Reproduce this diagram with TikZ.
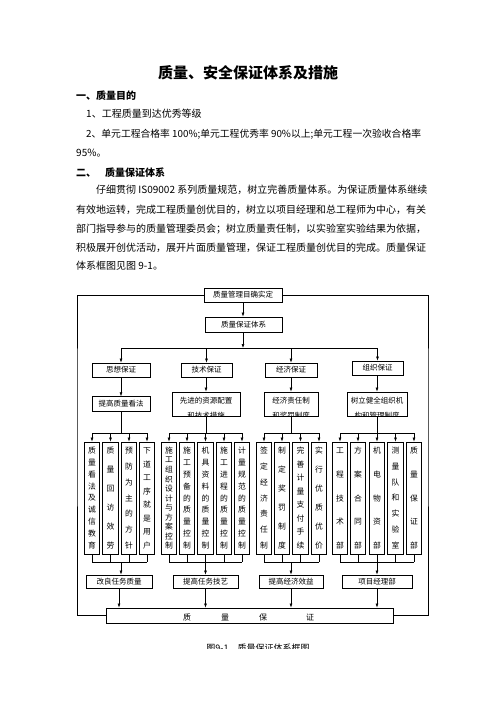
\documentclass[tikz,border=0pt]{standalone}
\usepackage{fontspec}
\setmainfont{Noto Sans CJK SC}
\usetikzlibrary{arrows.meta}
\newcommand\vcol[3]{%
  \foreach \c [count=\i] in {#3}
    \path (#1.north) ++(0,{9+(\i-1)*95/(#2-1)}) node[vch] (#1c\i) {\c};}
\begin{document}
\begin{tikzpicture}[x=1pt,y=-1pt,
  box/.style={draw,line width=0.9pt,inner sep=0pt,font=\fontsize{7.5}{8}\selectfont},
  tall/.style={draw,line width=0.9pt,inner sep=0pt,minimum width=15.5pt,minimum height=112pt},
  arr/.style={line width=0.6pt,-{Latex[length=4pt,width=3pt]}},
  ln/.style={line width=0.6pt},
  lab/.style={inner sep=0pt,font=\fontsize{7.5}{8}\selectfont},
  body/.style={anchor=west,inner sep=0pt,font=\fontsize{10}{12}\selectfont},
  vch/.style={inner sep=0pt,font=\fontsize{7.8}{8}\selectfont}
]
\useasboundingbox[fill=white] (0,0) rectangle (496,702);

% ---------- text ----------
\node[inner sep=0pt,font=\fontsize{15}{16}\selectfont\bfseries] (title) at (248,73) {质量、安全保证体系及措施};
\node[body,font=\fontsize{10}{12}\selectfont\bfseries] (h1) at (76,96) {一、质量目的};
\node[body] (p1) at (86,114) {1、工程质量到达优秀等级};
\node[body,font=\fontsize{9.8}{12}\selectfont] (p2) at (86,134) {2、单元工程合格率 100\%;单元工程优秀率 90\%以上;单元工程一次验收合格率};
\node[body] (p3) at (76,153) {95\%。};
\node[body,font=\fontsize{10}{12}\selectfont\bfseries] (h2) at (76,173) {二、};
\node[body,font=\fontsize{10}{12}\selectfont\bfseries] (h2b) at (105,173) {质量保证体系};
\node[body] (q1) at (96,190) {仔细贯彻 IS09002 系列质量规范，树立完善质量体系。为保证质量体系继续};
\node[body] (q2) at (76,210) {有效地运转，完成工程质量创优目的，树立以项目经理和总工程师为中心，有关};
\node[body] (q3) at (76,229) {部门指导参与的质量管理委员会；树立质量责任制，以实验室实验结果为依据，};
\node[body] (q4) at (76,248) {积极展开创优活动，展开片面质量管理，保证工程质量创优目的完成。质量保证};
\node[body] (q5) at (76,266) {体系框图见图 9-1。};

% ---------- top ----------
\node[box,minimum width=78pt,minimum height=14pt] (top) at (243,295) {质量管理目确实定};
\node[box,minimum width=77pt,minimum height=15pt] (sys) at (243.5,324.5) {质量保证体系};
\draw[arr] (top.south) -- (top.south |- sys.north);
\coordinate (bus) at (243,348);
\draw[arr] (sys.south -| bus) -- (bus);

% second level
\node[box,minimum width=58pt,minimum height=14pt] (b1) at (121,370) {思想保证};
\node[box,minimum width=51pt,minimum height=14pt] (b2) at (206.5,370) {技术保证};
\node[box,minimum width=52pt,minimum height=14pt] (b3) at (291,370) {经济保证};
\node[box,minimum width=51pt,minimum height=14pt] (b4) at (377.5,368) {组织保证};
\draw[ln] (b1.north |- bus) -- (b4.north |- bus);
\foreach \k in {b1,b2,b3,b4} \draw[arr] (\k.north |- bus) -- (\k.north);

% third level
\node[box,minimum width=58pt,minimum height=14.5pt] (t1) at (121,404) {提高质量看法};
\node[box,minimum width=68pt,minimum height=24pt] (t2) at (206,404) {};
\node[box,minimum width=54pt,minimum height=24pt] (t3) at (291,404) {};
\node[box,minimum width=60pt,minimum height=24pt] (t4) at (377,404) {};
\node[lab] (t2a) at (206,400.5) {先进的资源配置};
\node[lab] (t3a) at (291,400.5) {经济责任制};
\node[lab] (t4a) at (377,400.5) {树立健全组织机};
\begin{scope}
\clip (t2.north west) rectangle (t2.south east);
\node[lab] (t2b) at (206,415.5) {和技术措施};
\end{scope}
\begin{scope}
\clip (t3.north west) rectangle (t3.south east);
\node[lab] (t3b) at (291,415.5) {和奖罚制度};
\end{scope}
\begin{scope}
\clip (t4.north west) rectangle (t4.south east);
\node[lab] (t4b) at (377,415.5) {构和管理制度};
\end{scope}
\draw[arr] (b1.south) -- (t1.north);
\draw[arr] (b2.south -| t2) -- (t2.north);
\draw[arr] (b3.south) -- (t3.north);
\draw[arr] (b4.south -| t4) -- (t4.north);

% fourth level
\node[tall] (d1) at (92,498) {};   \vcol{d1}{9}{质,量,看,法,及,诚,信,教,育}
\node[tall] (d2) at (110.5,498) {}; \vcol{d2}{6}{质,量,回,访,效,劳}
\node[tall] (d3) at (129,498) {};  \vcol{d3}{7}{预,防,为,主,的,方,针}
\node[tall] (d4) at (147,498) {};  \vcol{d4}{8}{下,道,工,序,就,是,用,户}
\node[tall] (d5) at (169,498) {};  \vcol{d5}{11}{施,工,组,织,设,计,与,方,案,控,制}
\node[tall] (d6) at (187,498) {};  \vcol{d6}{9}{施,工,预,备,的,质,量,控,制}
\node[tall] (d7) at (205.5,498) {}; \vcol{d7}{9}{机,具,资,料,的,质,量,控,制}
\node[tall] (d8) at (224,498) {};  \vcol{d8}{9}{施,工,进,程,的,质,量,控,制}
\node[tall] (d9) at (242,498) {};  \vcol{d9}{9}{计,量,规,范,的,质,量,控,制}
\node[tall] (d10) at (264,498) {}; \vcol{d10}{7}{签,定,经,济,责,任,制}
\node[tall] (d11) at (282,498) {}; \vcol{d11}{6}{制,定,奖,罚,制,度}
\node[tall] (d12) at (300.5,498) {}; \vcol{d12}{8}{完,善,计,量,支,付,手,续}
\node[tall] (d13) at (319,498) {}; \vcol{d13}{6}{实,行,优,质,优,价}
\node[tall] (d14) at (340,498) {}; \vcol{d14}{5}{工,程,技,术,部}
\node[tall] (d15) at (358,498) {}; \vcol{d15}{5}{方,案,合,同,部}
\node[tall] (d16) at (377,498) {}; \vcol{d16}{5}{机,电,物,资,部}
\node[tall] (d17) at (395.5,498) {}; \vcol{d17}{7}{测,量,队,和,实,验,室}
\node[tall] (d18) at (414,498) {}; \vcol{d18}{5}{质,量,保,证,部}

\coordinate (u) at (0,433);
\coordinate (l) at (0,562);
% upper buses
\draw[ln] (t1.south) -- (t1.south |- u);
\draw[ln] (t2.south) -- (t2.south |- u);
\draw[ln] (t3.south) -- (t3.south |- u);
\draw[ln] (t4.south) -- (t4.south |- u);
\draw[ln] (d1.north |- u) -- (d4.north |- u);
\draw[ln] (d5.north |- u) -- (d9.north |- u);
\draw[ln] (d10.north |- u) -- (d13.north |- u);
\draw[ln] (d14.north |- u) -- (d18.north |- u);
\foreach \k in {d1,d2,d3,d4,d5,d6,d7,d8,d9,d10,d11,d12,d13,d14,d15,d16,d17,d18}
  \draw[arr] (\k.north |- u) -- (\k.north);
% lower buses
\foreach \k in {d1,d2,d3,d4,d5,d6,d7,d8,d9,d10,d11,d12,d13,d14,d15,d16,d17,d18}
  \draw[ln] (\k.south) -- (\k.south |- l);
\draw[ln] (d1.south |- l) -- (d4.south |- l);
\draw[ln] (d5.south |- l) -- (d9.south |- l);
\draw[ln] (d10.south |- l) -- (d13.south |- l);
\draw[ln] (d14.south |- l) -- (d18.south |- l);

% fifth level
\node[box,minimum width=66pt,minimum height=13pt] (g1) at (119,581.5) {改良任务质量};
\node[box,minimum width=65pt,minimum height=13pt] (g2) at (205.5,581.5) {提高任务技艺};
\node[box,minimum width=64pt,minimum height=13pt] (g3) at (291,581.5) {提高经济效益};
\node[box,minimum width=70pt,minimum height=13pt] (g4) at (377,581.5) {项目经理部};
\draw[arr] (t1.south |- l) -- (t1.south |- g1.north);
\draw[arr] (d7.south |- l) -- (d7.south |- g2.north);
\draw[arr] (t3.south |- l) -- (t3.south |- g3.north);
\draw[arr] (d16.south |- l) -- (d16.south |- g4.north);

% bottom box
\node[box,minimum width=287pt,minimum height=15pt] (big) at (249.5,615.5) {};
\node[lab,font=\fontsize{8}{8}\selectfont] (bz1) at (187,617) {质};
\node[lab,font=\fontsize{8}{8}\selectfont] (bz2) at (225,617) {量};
\node[lab,font=\fontsize{8}{8}\selectfont] (bz3) at (263,617) {保};
\node[lab,font=\fontsize{8}{8}\selectfont] (bz4) at (310,617) {证};
\draw[arr] (g1.south) -- (g1.south |- big.north);
\draw[arr] (g2.south) -- (g2.south |- big.north);
\draw[arr] (g3.south) -- (g3.south |- big.north);
\draw[arr] (g4.south) -- (g4.south |- big.north);

% outer frame
\coordinate (fl) at (77,400);
\coordinate (fr) at (428,400);
\draw[ln] (top.west) -| (fl) |- (big.west);
\draw[ln] (top.east) -| (fr) |- (big.east);

% caption (cut off)
\begin{scope}
\clip (0,0) rectangle (496,648.5);
\node[lab,font=\fontsize{9}{9}\selectfont] (cap) at (258,648) {图9-1\quad 质量保证体系框图};
\end{scope}
\end{tikzpicture}
\end{document}
